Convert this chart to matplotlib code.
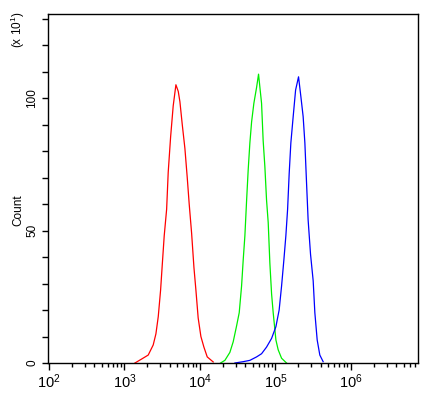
import numpy as np
import matplotlib
matplotlib.use("Agg")
import matplotlib.pyplot as plt
from matplotlib.ticker import LogLocator, FixedLocator, NullFormatter

plt.rcParams['font.family'] = ['Liberation Sans', 'DejaVu Sans']
plt.rcParams['mathtext.default'] = 'regular'

# histogram outlines: log10(intensity), count (x10)
red_logx = [3.139, 3.228, 3.315, 3.381, 3.417, 3.448, 3.479, 3.501, 3.527, 3.559,
            3.580, 3.612, 3.646, 3.682, 3.713, 3.735, 3.766, 3.801, 3.832, 3.858,
            3.890, 3.921, 3.947, 3.977, 4.013, 4.053, 4.097, 4.176]
red_count = [0, 1.5, 3, 6.8, 11, 17.5, 27.5, 37, 48, 58,
             72, 85.4, 97, 105, 102.5, 98.6, 90, 81, 70, 60,
             49, 36, 27.5, 17, 10, 6, 2.3, 0.4]

green_logx = [4.274, 4.331, 4.397, 4.441, 4.486, 4.521, 4.552, 4.574, 4.596, 4.619,
              4.640, 4.662, 4.685, 4.715, 4.751, 4.777, 4.795, 4.817, 4.838, 4.861,
              4.883, 4.905, 4.927, 4.950, 4.971, 5.007, 5.037, 5.082, 5.148]
green_count = [0, 1, 4, 8, 14, 19, 29, 39, 48, 61.5,
               73, 83, 91, 98, 104, 109, 104, 98, 84, 74,
               61.5, 53, 37.7, 26, 19, 8.7, 5, 1.8, 0]

blue_logx = [4.464, 4.574, 4.662, 4.751, 4.817, 4.883, 4.950, 5.007, 5.050, 5.082,
             5.113, 5.139, 5.162, 5.183, 5.205, 5.236, 5.268, 5.307, 5.338, 5.368,
             5.391, 5.413, 5.434, 5.466, 5.501, 5.523, 5.554, 5.589, 5.633]
blue_count = [0, 0.5, 1, 2.3, 3.5, 6, 9.3, 13.7, 20, 29,
              39, 48, 58, 71.5, 83, 93, 103, 108, 100.5, 93,
              83, 68, 54, 41, 31, 19, 8.7, 3, 0.5]

fig = plt.figure(figsize=(4.32, 3.94), dpi=100)
ax = fig.add_axes([48/432, 31/394, 370/432, 349/394])

for lx, c, col in [(red_logx, red_count, '#ff0000'),
                   (green_logx, green_count, '#00ee00'),
                   (blue_logx, blue_count, '#0000ff')]:
    ax.plot(10 ** np.array(lx), c, color=col, lw=0.9)

ax.set_xscale('log')
ax.set_xlim(10 ** 1.987, 10 ** 6.89)
ax.set_ylim(0, 131.7)

xt = [1e2, 1e3, 1e4, 1e5, 1e6]
ax.xaxis.set_major_locator(FixedLocator(xt))
ax.set_xticklabels([r'10$^{%d}$' % int(np.log10(v)) for v in xt], fontsize=10.5)
ax.xaxis.set_minor_locator(LogLocator(base=10, subs=np.arange(2, 10)))
ax.xaxis.set_minor_formatter(NullFormatter())

ax.set_yticks(np.arange(0, 131, 10))
ax.set_yticklabels(['0', '', '', '', '', '50', '', '', '', '', '100', '', '', ''],
                   rotation=90, va='center', fontsize=8.5)

ax.tick_params(axis='x', which='major', length=5, width=1, pad=2)
ax.tick_params(axis='x', which='minor', length=3, width=1)
ax.tick_params(axis='y', length=4, width=1, pad=3)
for s in ax.spines.values():
    s.set_linewidth(1)

fig.text(18/432, 1 - 210/394, 'Count', rotation=90,
         ha='center', va='center', fontsize=8.5)
fig.text(18/432, 1 - 30/394, r'(x 10$^{1}$)', rotation=90,
         ha='center', va='center', fontsize=8.5)

fig.savefig('out.png', dpi=100)
